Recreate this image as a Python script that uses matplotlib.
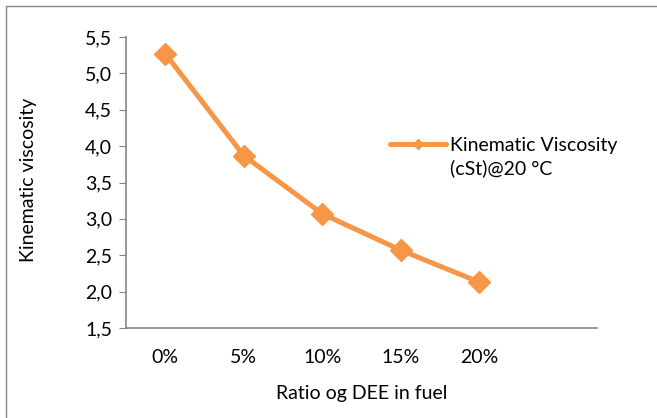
import matplotlib

matplotlib.use("Agg")
import matplotlib.pyplot as plt
from matplotlib.legend_handler import HandlerLine2D
from matplotlib.patches import Rectangle
from matplotlib.ticker import FuncFormatter

categories = ["0%", "5%", "10%", "15%", "20%"]
viscosity = [5.27, 3.87, 3.07, 2.57, 2.13]
series_label = "Kinematic Viscosity\n(cSt)@20 °C"

plt.rcParams["font.family"] = ["Lato", "DejaVu Sans"]

orange = "#F79646"
grey = "#868686"
fs = 14


class TopLineHandler(HandlerLine2D):
    """Excel puts the legend key next to the first line of a wrapped label."""

    def create_artists(self, legend, orig_handle, xdescent, ydescent,
                       width, height, fontsize, trans):
        artists = super().create_artists(legend, orig_handle, xdescent, ydescent,
                                         width, height, fontsize, trans)
        for a in artists:
            a.set_ydata([y + 0.72 * fontsize for y in a.get_ydata()])
        return artists


fig = plt.figure(figsize=(6.57, 4.18), dpi=100)
ax = fig.add_axes([126 / 657, 1 - 328 / 418, (597 - 126) / 657, (328 - 37) / 418])

x = list(range(len(categories)))
line, = ax.plot(x, viscosity, color=orange, linewidth=3.6, marker="D", markersize=11,
                label=series_label, solid_capstyle="round")

ax.set_xlim(-0.5, 5.5)
ax.set_ylim(1.5, 5.5)
ax.set_xticks(x)
ax.set_xticklabels(categories)
ax.set_yticks([1.5, 2.0, 2.5, 3.0, 3.5, 4.0, 4.5, 5.0, 5.5])
ax.yaxis.set_major_formatter(FuncFormatter(lambda v, _: f"{v:.1f}".replace(".", ",")))

for side in ("top", "right"):
    ax.spines[side].set_visible(False)
for side in ("left", "bottom"):
    ax.spines[side].set_color(grey)
    ax.spines[side].set_linewidth(1.2)
ax.tick_params(axis="y", length=5, color=grey, labelsize=fs, pad=5)
ax.tick_params(axis="x", length=0, labelsize=fs, pad=15)

ax.set_xlabel("Ratio og DEE in fuel", fontsize=fs, labelpad=14)
ax.set_ylabel("Kinematic viscosity", fontsize=fs)
ax.yaxis.set_label_coords((37 - 126) / 471, 0.51)

leg = ax.legend(loc="upper left", bbox_to_anchor=(372 / 657, 1 - 120 / 418),
                bbox_transform=fig.transFigure, frameon=False, fontsize=fs,
                handlelength=2.9, handletextpad=0.2, markerscale=0.45,
                handler_map={line: TopLineHandler()})
for t in leg.get_texts():
    t.set_linespacing(1.35)

# outer chart border
fig.patches.append(Rectangle((6 / 657, -0.01), 1.1, 1 - 6 / 418 + 0.01,
                             transform=fig.transFigure, fill=False,
                             edgecolor=grey, linewidth=1))

fig.savefig("out.png", dpi=100)
